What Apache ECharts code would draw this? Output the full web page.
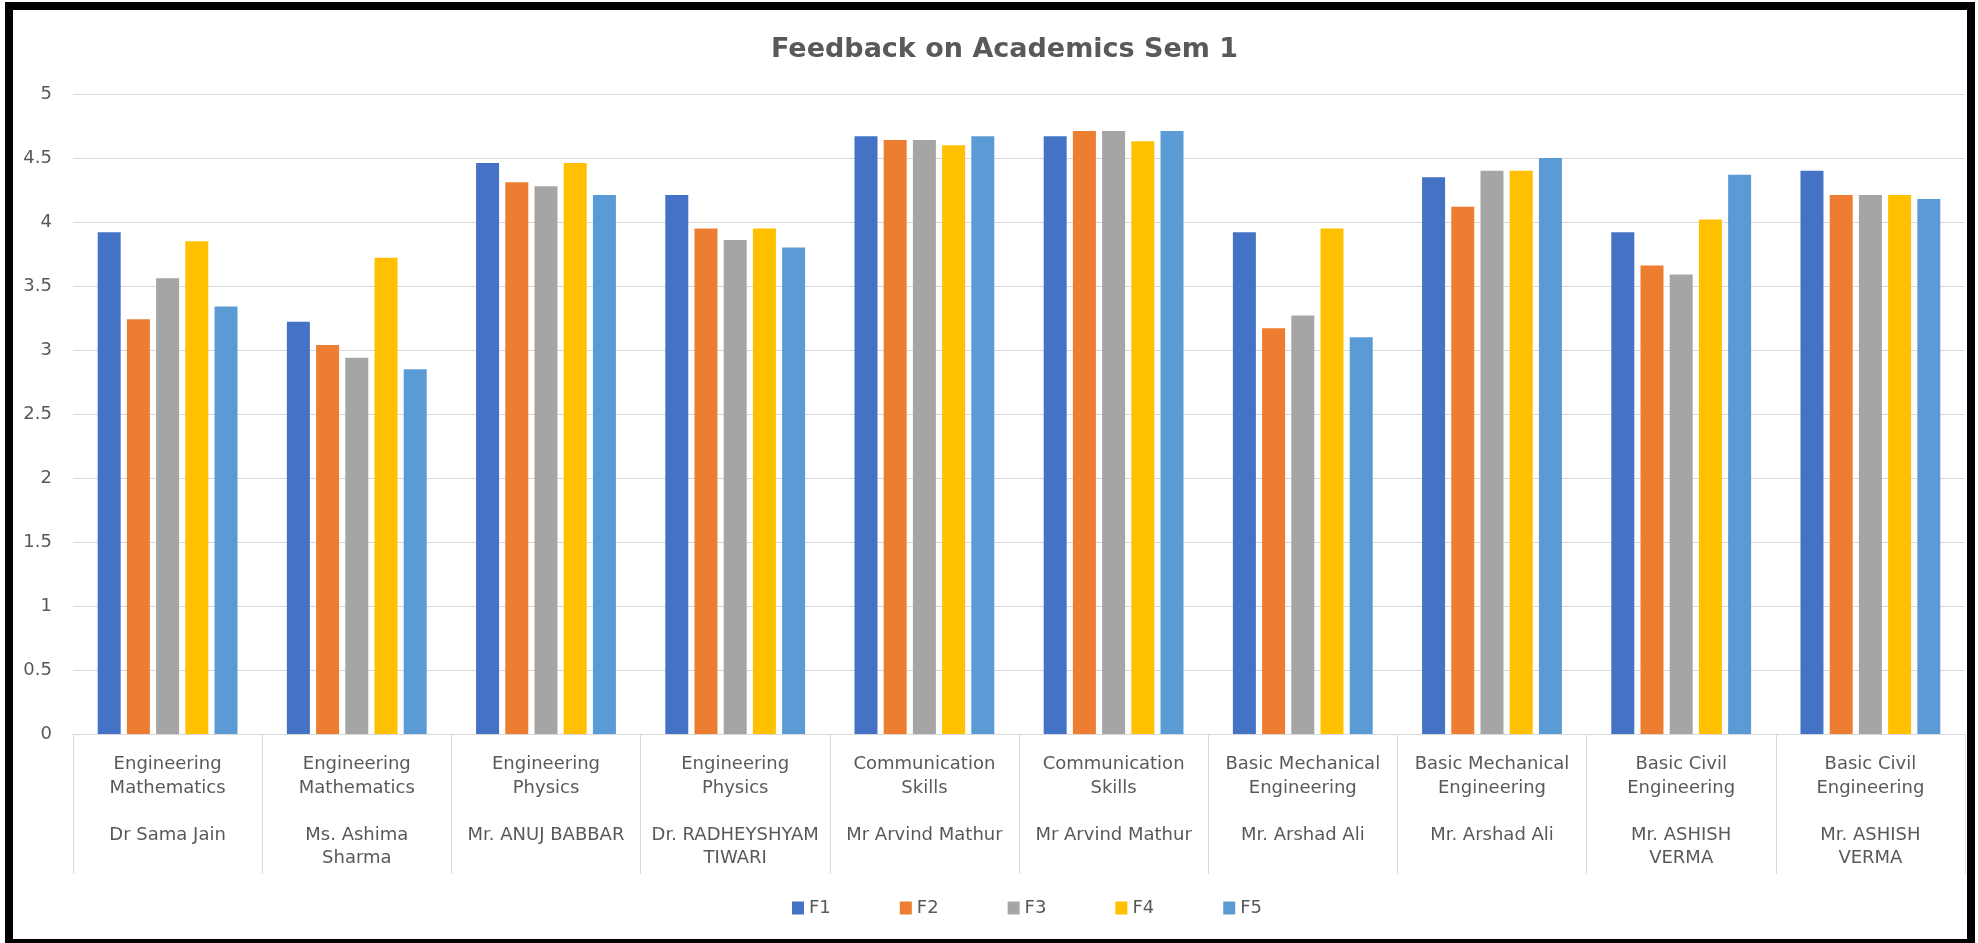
<!DOCTYPE html>
<html>
<head>
<meta charset="utf-8">
<script src="https://cdn.jsdelivr.net/npm/echarts@6/dist/echarts.min.js"></script>
<style>
  html, body { margin: 0; padding: 0; background: #fff; }
  #chart { width: 1978px; height: 943px; }
</style>
</head>
<body>
<div id="chart"></div>
<script>
// subject (inner level) and teacher (outer level), wrapped as in the picture
var subjects = ['Engineering\nMathematics', 'Engineering\nMathematics', 'Engineering\nPhysics', 'Engineering\nPhysics',
    'Communication\nSkills', 'Communication\nSkills', 'Basic Mechanical\nEngineering', 'Basic Mechanical\nEngineering',
    'Basic Civil\nEngineering', 'Basic Civil\nEngineering'];
var teachers = ['Dr Sama Jain', 'Ms. Ashima\nSharma', 'Mr. ANUJ BABBAR', 'Dr. RADHEYSHYAM\nTIWARI', 'Mr Arvind Mathur',
    'Mr Arvind Mathur', 'Mr. Arshad Ali', 'Mr. Arshad Ali', 'Mr. ASHISH\nVERMA', 'Mr. ASHISH\nVERMA'];

var seriesNames = ['F1', 'F2', 'F3', 'F4', 'F5'];
var f1 = [3.92, 3.22, 4.46, 4.21, 4.67, 4.67, 3.92, 4.35, 3.92, 4.40];
var f2 = [3.24, 3.04, 4.31, 3.95, 4.64, 4.71, 3.17, 4.12, 3.66, 4.21];
var f3 = [3.56, 2.94, 4.28, 3.86, 4.64, 4.71, 3.27, 4.40, 3.59, 4.21];
var f4 = [3.85, 3.72, 4.46, 3.95, 4.60, 4.63, 3.95, 4.40, 4.02, 4.21];
var f5 = [3.34, 2.85, 4.21, 3.80, 4.67, 4.71, 3.10, 4.50, 4.37, 4.18];
var colors = ['#4472C4', '#ED7D31', '#A5A5A5', '#FFC000', '#5B9BD5'];

var yTicks = [0, 0.5, 1, 1.5, 2, 2.5, 3, 3.5, 4, 4.5, 5];

var chart = echarts.init(document.getElementById('chart'));
var font = 'DejaVu Sans';
var values = [f1, f2, f3, f4, f5];

var series = [];
for (var i = 0; i < seriesNames.length; i++) {
    series.push({
        name: seriesNames[i],
        type: 'bar',
        data: values[i],
        barWidth: 23,
        barGap: '27%',
        itemStyle: { color: colors[i] }
    });
}

var option = {
    animation: false,
    textStyle: { fontFamily: font },
    title: {
        text: 'Feedback on Academics Sem 1',
        left: 766,
        top: 31,
        textStyle: { fontFamily: font, fontSize: 27, fontWeight: 'bold', color: '#595959' }
    },
    legend: {
        data: seriesNames,
        left: 787,
        top: 894,
        icon: 'rect',
        itemWidth: 12,
        itemHeight: 13,
        itemGap: 69,
        textStyle: { fontFamily: font, fontSize: 18, color: '#595959' }
    },
    grid: { left: 73, right: 13, top: 94, bottom: 209, containLabel: false },
    xAxis: {
        type: 'category',
        data: subjects.map(function (s, i) { return String(i); }),
        axisLine: { lineStyle: { color: '#d9d9d9', width: 1 } },
        axisTick: { show: true, length: 140, interval: 0, lineStyle: { color: '#d9d9d9', width: 1 } },
        axisLabel: {
            interval: 0,
            margin: 19,
            fontFamily: font,
            fontSize: 18,
            lineHeight: 23.5,
            color: '#595959',
            verticalAlign: 'top',
            formatter: function (v) {
                var i = parseInt(v);
                return subjects[i] + '\n\n' + teachers[i];
            }
        }
    },
    yAxis: {
        type: 'value',
        min: yTicks[0],
        max: yTicks[yTicks.length - 1],
        interval: 0.5,
        axisLine: { show: false },
        axisTick: { show: false },
        splitLine: { lineStyle: { color: '#d9d9d9', width: 1 } },
        axisLabel: { fontFamily: font, fontSize: 18, color: '#595959', margin: 21 }
    },
    graphic: [{
        type: 'rect',
        shape: { x: 9, y: 6, width: 1962, height: 937 },
        style: { fill: null, stroke: '#000', lineWidth: 8 },
        silent: true
    }],
    series: series
};
chart.setOption(option);
</script>
</body>
</html>
